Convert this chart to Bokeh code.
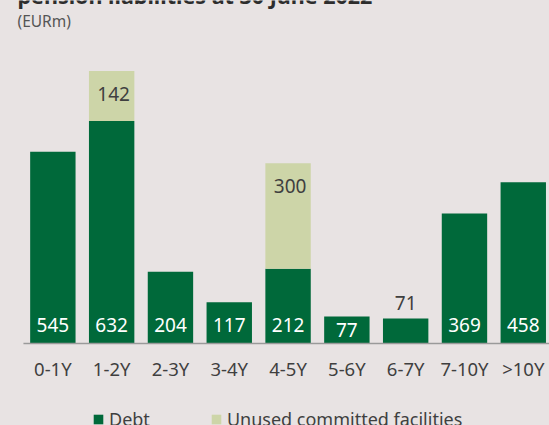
from bokeh.plotting import figure
from bokeh.models import (ColumnDataSource, Range1d, FixedTicker, Label,
                          Legend, LegendItem)
from bokeh.core.properties import value
from bokeh.embed import file_html
from bokeh.resources import INLINE

# ---- data ----
categories = ["0-1Y", "1-2Y", "2-3Y", "3-4Y", "4-5Y", "5-6Y", "6-7Y", "7-10Y", ">10Y"]
debt = [545, 632, 204, 117, 212, 77, 71, 369, 458]
unused = [0, 142, 0, 0, 300, 0, 0, 0, 0]
series_names = ["Debt", "Unused committed facilities"]
title_text = "pension liabilities at 30 June 2022"
unit_label = "(EURm)"

# ---- style ----
BG = "#E8E3E3"
DARK = "#00693A"
LIGHT = "#CDD5A8"
TXT = "#3f3f3f"
FONT = "Noto Sans"

idx = list(range(len(categories)))
src = ColumnDataSource(dict(x=idx, debt=debt, unused=unused))

X_END = 8.446
p = figure(width=549, height=425, output_backend="svg", toolbar_location=None,
           x_range=Range1d(-0.8903, X_END), y_range=Range1d(-233, 974.4),
           min_border_left=0, min_border_right=0, min_border_top=0,
           min_border_bottom=0)
p.background_fill_color = BG
p.border_fill_color = BG
p.outline_line_color = None
p.grid.visible = False
p.yaxis.visible = False

# title (cut off at the top, as in the source) and unit label
p.add_layout(Label(x=17, y=430, x_units="screen", y_units="screen", text=title_text,
                   text_font=FONT, text_font_size="21.5px", text_font_style="bold",
                   text_color="#2d2d2d", text_baseline="alphabetic"))
p.add_layout(Label(x=17, y=404.5, x_units="screen", y_units="screen", text=unit_label,
                   text_font=FONT, text_font_size="15.5px", text_color="#555555",
                   text_baseline="alphabetic"))

renderers = p.vbar_stack(["debt", "unused"], x="x", width=0.772, source=src,
                         color=[DARK, LIGHT], line_color=None)

# baseline from the first band edge to the right edge
p.segment(x0=[idx[0] - 0.5], y0=[0], x1=[X_END], y1=[0],
          line_color="#9a9a9a", line_width=1.5)

# value labels inside debt bars
big = [i for i in idx if debt[i] >= 100]
mid = [i for i in idx if 75 <= debt[i] < 100]
small = [i for i in idx if debt[i] < 75]
for sel, off in ((big, -18.5), (mid, -13)):
    s = ColumnDataSource(dict(x=sel, y=[0] * len(sel), t=[str(debt[i]) for i in sel]))
    p.text(x="x", y="y", text="t", source=s, text_color="white",
           text_font=value(FONT), text_font_size="19px", text_align="center",
           text_baseline="alphabetic", y_offset=off)
s = ColumnDataSource(dict(x=small, y=[debt[i] for i in small], t=[str(debt[i]) for i in small]))
p.text(x="x", y="y", text="t", source=s, text_color=TXT,
       text_font=value(FONT), text_font_size="19px", text_align="center",
       text_baseline="alphabetic", y_offset=-15.5)

# labels for unused facilities
us = [i for i in idx if unused[i] > 0]
s = ColumnDataSource(dict(x=us, y=[debt[i] + unused[i] for i in us], t=[str(unused[i]) for i in us]))
p.text(x="x", y="y", text="t", source=s, text_color=TXT,
       text_font=value(FONT), text_font_size="19px", text_align="center",
       text_baseline="alphabetic", y_offset=23, x_offset=2)

# x axis (drawn at the zero line)
ax = p.xaxis[0]
ax.fixed_location = 0
ax.ticker = FixedTicker(ticks=idx)
ax.major_label_overrides = {i: c for i, c in zip(idx, categories)}
ax.major_tick_in = 0
ax.major_tick_out = 0
ax.minor_tick_in = 0
ax.minor_tick_out = 0
ax.axis_line_color = None
ax.major_label_standoff = 13
ax.major_label_text_font = FONT
ax.major_label_text_font_size = "18.5px"
ax.major_label_text_color = TXT

legend = Legend(items=[LegendItem(label=series_names[0], renderers=[renderers[0]]),
                       LegendItem(label=series_names[1], renderers=[renderers[1]])],
                orientation="horizontal", location=(92, -6), padding=0, margin=0,
                spacing=60, label_standoff=5, glyph_width=12, glyph_height=12,
                border_line_color=None, background_fill_alpha=0,
                label_text_font=FONT, label_text_font_size="18px",
                label_text_color=TXT)
p.add_layout(legend)

template = """{% block preamble %}<style>body{background:#E8E3E3;}</style>{% endblock %}"""

open("out.html", "w").write(file_html(p, INLINE, template=template))
